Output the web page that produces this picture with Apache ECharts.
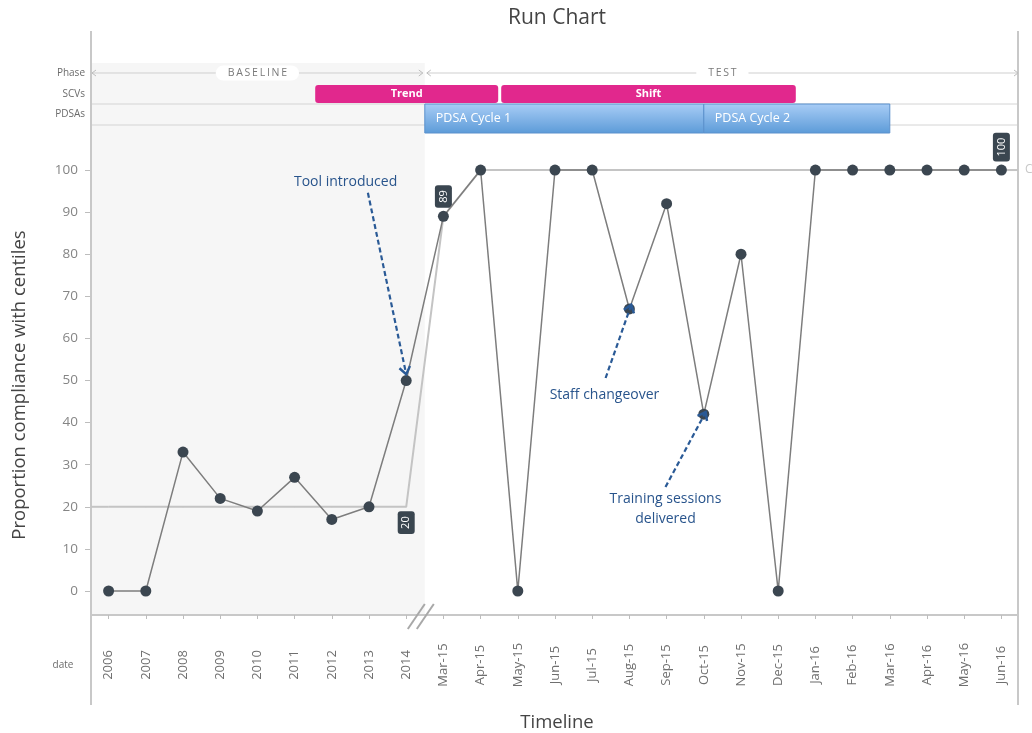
<!DOCTYPE html>
<html>
<head>
<meta charset="utf-8">
<title>Run Chart</title>
<script src="https://cdn.jsdelivr.net/npm/echarts@6/dist/echarts.min.js"></script>
<style>
  html, body { margin: 0; padding: 0; background: #fff; }
  #main { width: 1032px; height: 733px; }
</style>
</head>
<body>
<div id="main"></div>
<script>
// ---- data ----
var dates = ['2006', '2007', '2008', '2009', '2010', '2011', '2012', '2013', '2014',
    'Mar-15', 'Apr-15', 'May-15', 'Jun-15', 'Jul-15', 'Aug-15', 'Sep-15', 'Oct-15',
    'Nov-15', 'Dec-15', 'Jan-16', 'Feb-16', 'Mar-16', 'Apr-16', 'May-16', 'Jun-16'];
var compliance = [0, 0, 33, 22, 19, 27, 17, 20, 50,
    89, 100, 0, 100, 100, 67, 92, 42, 80, 0, 100, 100, 100, 100, 100, 100];
var centreLine = [20, 20, 20, 20, 20, 20, 20, 20, 20,
    89, 100, 100, 100, 100, 100, 100, 100, 100, 100, 100, 100, 100, 100, 100, 100];
var centreLabelIdx = [8, 9, 24];
var centreLabelPos = ['bottom', 'top', 'top'];
var yTicks = [0, 10, 20, 30, 40, 50, 60, 70, 80, 90, 100];

// spans in category-index units (band edges sit on .5)
var phaseNames = ['BASELINE', 'TEST'];
var phaseSpans = [[-0.5, 8.5], [8.5, 24.5]];
var scvNames = ['Trend', 'Shift'];
var scvSpans = [[5.5, 10.5], [10.5, 18.5]];
var pdsaNames = ['PDSA Cycle 1', 'PDSA Cycle 2'];
var pdsaSpans = [[8.5, 16], [16, 21]];
var breakAt = 8.5;

// annotations: text position, arrow start, arrow tip  ([index, value])
var noteTexts = ['Tool introduced', 'Staff changeover', 'Training sessions\ndelivered'];
var noteTextAt = [[6.37, 97.2], [13.33, 46.6], [14.97, 19.5]];
var noteFrom = [[6.97, 94.6], [13.36, 50.6], [14.97, 24.7]];
var noteTo = [[8, 51.5], [14.05, 68], [16.05, 42.5]];

// ---- layout ----
var FONT = '"Open Sans", "Noto Sans", sans-serif';
var FRAME_L = 91, FRAME_R = 1018, FRAME_TOP = 31, FRAME_BOT = 705, AXIS_Y = 615, SHADE_TOP = 63;
var PHASE_Y = 73, SCV_TOP = 85, SCV_BOT = 103, ROW_LINE1 = 104, ROW_LINE2 = 125, PDSA_BOT = 133;
var NOTE_BLUE = '#2a5a96';

function helpers(params, api) {
    var bw = api.size([1, 0])[0];
    var x0 = api.coord([0, 0])[0];
    return {
        px: function (i) { return x0 + i * bw; },
        py: function (v) { return api.coord([0, v])[1]; }
    };
}

function arrowHead(x1, y1, x2, y2, len) {
    var a = Math.atan2(y2 - y1, x2 - x1);
    return [
        [x2 + len * Math.cos(a + 2.5), y2 + len * Math.sin(a + 2.5)],
        [x2, y2],
        [x2 + len * Math.cos(a - 2.5), y2 + len * Math.sin(a - 2.5)]
    ];
}

function renderBack(params, api) {
    var h = helpers(params, api);
    var kids = [];
    // baseline shading
    kids.push({
        type: 'rect',
        shape: { x: h.px(phaseSpans[0][0]), y: SHADE_TOP, width: h.px(phaseSpans[0][1]) - h.px(phaseSpans[0][0]), height: AXIS_Y - SHADE_TOP },
        style: { fill: '#f6f6f6' }
    });
    // header row lines
    [ROW_LINE1, ROW_LINE2].forEach(function (y) {
        kids.push({ type: 'line', shape: { x1: FRAME_L, y1: y, x2: FRAME_R, y2: y }, style: { stroke: '#d4d4d4', lineWidth: 1 } });
    });
    // frame
    kids.push({ type: 'line', shape: { x1: FRAME_L, y1: FRAME_TOP, x2: FRAME_L, y2: FRAME_BOT }, style: { stroke: '#c8c8c8', lineWidth: 2 } });
    kids.push({ type: 'line', shape: { x1: FRAME_R, y1: FRAME_TOP, x2: FRAME_R, y2: FRAME_BOT }, style: { stroke: '#c8c8c8', lineWidth: 2 } });
    kids.push({ type: 'line', shape: { x1: FRAME_L, y1: AXIS_Y, x2: FRAME_R, y2: AXIS_Y }, style: { stroke: '#c8c8c8', lineWidth: 2 } });
    // centre line extensions to the frame
    kids.push({ type: 'line', shape: { x1: FRAME_L, y1: h.py(centreLine[0]), x2: h.px(0), y2: h.py(centreLine[0]) }, style: { stroke: '#c4c4c4', lineWidth: 2 } });
    var last = centreLine.length - 1;
    kids.push({ type: 'line', shape: { x1: h.px(last), y1: h.py(centreLine[last]), x2: FRAME_R, y2: h.py(centreLine[last]) }, style: { stroke: '#c4c4c4', lineWidth: 2 } });
    return { type: 'group', children: kids };
}

function renderFront(params, api) {
    var h = helpers(params, api);
    var kids = [];
    // phase arrows
    phaseSpans.forEach(function (s, i) {
        var a = h.px(s[0]) + 2, b = h.px(s[1]) - 2;
        kids.push({ type: 'line', shape: { x1: a, y1: PHASE_Y, x2: b, y2: PHASE_Y }, style: { stroke: '#cfcfcf', lineWidth: 1 } });
        kids.push({ type: 'polyline', shape: { points: [[a + 4, PHASE_Y - 3], [a, PHASE_Y], [a + 4, PHASE_Y + 3]] }, style: { stroke: '#bdbdbd', fill: null, lineWidth: 1 } });
        kids.push({ type: 'polyline', shape: { points: [[b - 4, PHASE_Y - 3], [b, PHASE_Y], [b - 4, PHASE_Y + 3]] }, style: { stroke: '#bdbdbd', fill: null, lineWidth: 1 } });
        kids.push({
            type: 'text', x: (a + b) / 2, y: PHASE_Y,
            style: {
                text: phaseNames[i].split('').join('\u2009'), fill: '#7a7a7a', fontSize: 10.5, fontFamily: FONT,
                align: 'center', verticalAlign: 'middle', backgroundColor: '#fff', padding: [2, 12], borderRadius: 8
            }
        });
    });
    // SCV bars
    scvSpans.forEach(function (s, i) {
        var a = h.px(s[0]) + 2, b = h.px(s[1]) - 1;
        kids.push({ type: 'rect', shape: { x: a, y: SCV_TOP, width: b - a, height: SCV_BOT - SCV_TOP, r: 3 }, style: { fill: '#e1288d' } });
        kids.push({
            type: 'text', x: (a + b) / 2, y: (SCV_TOP + SCV_BOT) / 2,
            style: { text: scvNames[i], fill: '#fff', fontSize: 11, fontWeight: 'bold', fontFamily: FONT, align: 'center', verticalAlign: 'middle' }
        });
    });
    // PDSA bars
    pdsaSpans.forEach(function (s, i) {
        var a = h.px(s[0]), b = h.px(s[1]);
        kids.push({
            type: 'rect', shape: { x: a, y: ROW_LINE1, width: b - a, height: PDSA_BOT - ROW_LINE1 },
            style: {
                fill: new echarts.graphic.LinearGradient(0, 0, 0, 1, [
                    { offset: 0, color: '#a9cdf6' }, { offset: 1, color: '#5c9bd8' }
                ]),
                stroke: '#5b90cc', lineWidth: 1
            }
        });
        kids.push({
            type: 'text', x: a + 11, y: (ROW_LINE1 + PDSA_BOT) / 2,
            style: { text: pdsaNames[i], fill: '#fff', fontSize: 12.5, fontFamily: FONT, align: 'left', verticalAlign: 'middle' }
        });
    });
    // axis break mark
    var bx = h.px(breakAt);
    kids.push({ type: 'line', shape: { x1: bx - 17, y1: AXIS_Y + 14, x2: bx, y2: AXIS_Y - 11 }, style: { stroke: '#a8a8a8', lineWidth: 2 } });
    kids.push({ type: 'line', shape: { x1: bx - 8, y1: AXIS_Y + 14, x2: bx + 9, y2: AXIS_Y - 11 }, style: { stroke: '#a8a8a8', lineWidth: 2 } });
    // annotations
    noteTexts.forEach(function (t, i) {
        var x1 = h.px(noteFrom[i][0]), y1 = h.py(noteFrom[i][1]);
        var x2 = h.px(noteTo[i][0]), y2 = h.py(noteTo[i][1]);
        kids.push({ type: 'line', shape: { x1: x1, y1: y1, x2: x2, y2: y2 }, style: { stroke: NOTE_BLUE, lineWidth: 2.2, lineDash: [5, 3] } });
        kids.push({ type: 'polyline', shape: { points: arrowHead(x1, y1, x2, y2, 9) }, style: { stroke: NOTE_BLUE, fill: null, lineWidth: 2.4 } });
        kids.push({
            type: 'text', x: h.px(noteTextAt[i][0]), y: h.py(noteTextAt[i][1]),
            style: { text: t, fill: '#28548c', fontSize: 14, lineHeight: 20, fontFamily: FONT, align: 'center', verticalAlign: 'middle' }
        });
    });
    // centre line tag at the right edge
    kids.push({
        type: 'text', x: FRAME_R + 7, y: h.py(centreLine[centreLine.length - 1]),
        style: { text: 'CL', fill: '#c8c8c8', fontSize: 12, fontFamily: FONT, align: 'left', verticalAlign: 'middle' }
    });
    return { type: 'group', children: kids };
}

var centreData = centreLine.map(function (v, i) {
    var k = centreLabelIdx.indexOf(i);
    if (k < 0) return v;
    var top = centreLabelPos[k] === 'top';
    return {
        value: v,
        label: {
            show: true, position: top ? 'top' : 'bottom', distance: top ? 8 : 4, rotate: 90,
            align: top ? 'left' : 'right', verticalAlign: 'middle',
            color: '#fff', fontSize: 11, fontFamily: FONT,
            backgroundColor: '#3a4650', padding: [3, 5], borderRadius: 3
        }
    };
});

var option = {
    backgroundColor: '#fff',
    animation: false,
    textStyle: { fontFamily: FONT },
    grid: { left: 90, right: 12, top: 125, bottom: 118 },
    xAxis: {
        type: 'category',
        data: dates,
        boundaryGap: true,
        axisLine: { show: false, onZero: false },
        axisTick: { show: true, alignWithLabel: true, length: 4, lineStyle: { color: '#bdbdbd' } },
        axisLabel: {
            interval: 0, rotate: 90, align: 'center', verticalAlign: 'middle', margin: 50,
            fontSize: 13, color: '#6f6f6f', fontFamily: FONT
        },
        splitLine: { show: false }
    },
    yAxis: {
        type: 'value',
        min: -5.7,
        max: 110.7,
        axisLine: { show: false },
        axisTick: { show: true, length: 5, customValues: yTicks, lineStyle: { color: '#bdbdbd' } },
        axisLabel: { customValues: yTicks, margin: 12, fontSize: 13.5, color: '#858585', fontFamily: FONT },
        splitLine: { show: false }
    },
    graphic: [
        { type: 'text', x: 557, y: 18, style: { text: 'Run Chart', fill: '#444', fontSize: 21, fontFamily: FONT, align: 'center', verticalAlign: 'middle' } },
        { type: 'text', x: 20, y: 385, rotation: Math.PI / 2, style: { text: 'Proportion compliance with centiles', fill: '#444', fontSize: 18.5, fontFamily: FONT, align: 'center', verticalAlign: 'middle' } },
        { type: 'text', x: 557, y: 723, style: { text: 'Timeline', fill: '#444', fontSize: 18.5, fontFamily: FONT, align: 'center', verticalAlign: 'middle' } },
        { type: 'text', x: 85, y: PHASE_Y, style: { text: 'Phase', fill: '#6b6b6b', fontSize: 10, fontFamily: FONT, align: 'right', verticalAlign: 'middle' } },
        { type: 'text', x: 85, y: (SCV_TOP + SCV_BOT) / 2, style: { text: 'SCVs', fill: '#6b6b6b', fontSize: 10, fontFamily: FONT, align: 'right', verticalAlign: 'middle' } },
        { type: 'text', x: 85, y: (ROW_LINE1 + ROW_LINE2) / 2, style: { text: 'PDSAs', fill: '#6b6b6b', fontSize: 10, fontFamily: FONT, align: 'right', verticalAlign: 'middle' } },
        { type: 'text', x: 63, y: 665, style: { text: 'date', fill: '#6b6b6b', fontSize: 10, fontFamily: FONT, align: 'center', verticalAlign: 'middle' } }
    ],
    series: [
        {
            type: 'custom', z: 0, silent: true, clip: false,
            data: [[0, 0]],
            renderItem: renderBack
        },
        {
            name: 'Centre line',
            type: 'line', z: 2,
            data: centreData,
            symbol: 'circle', symbolSize: 1, showSymbol: true,
            itemStyle: { color: '#c4c4c4' },
            lineStyle: { color: '#c4c4c4', width: 2 },
            label: { show: false }
        },
        {
            name: 'Compliance',
            type: 'line', z: 3,
            data: compliance,
            symbol: 'circle', symbolSize: 11,
            itemStyle: { color: '#3b4650' },
            lineStyle: { color: '#7d7d7d', width: 1.5 }
        },
        {
            type: 'custom', z: 4, silent: true, clip: false,
            data: [[0, 0]],
            renderItem: renderFront
        }
    ]
};

var chart = echarts.init(document.getElementById('main'), null, { renderer: 'canvas' });
chart.setOption(option);
</script>
</body>
</html>
